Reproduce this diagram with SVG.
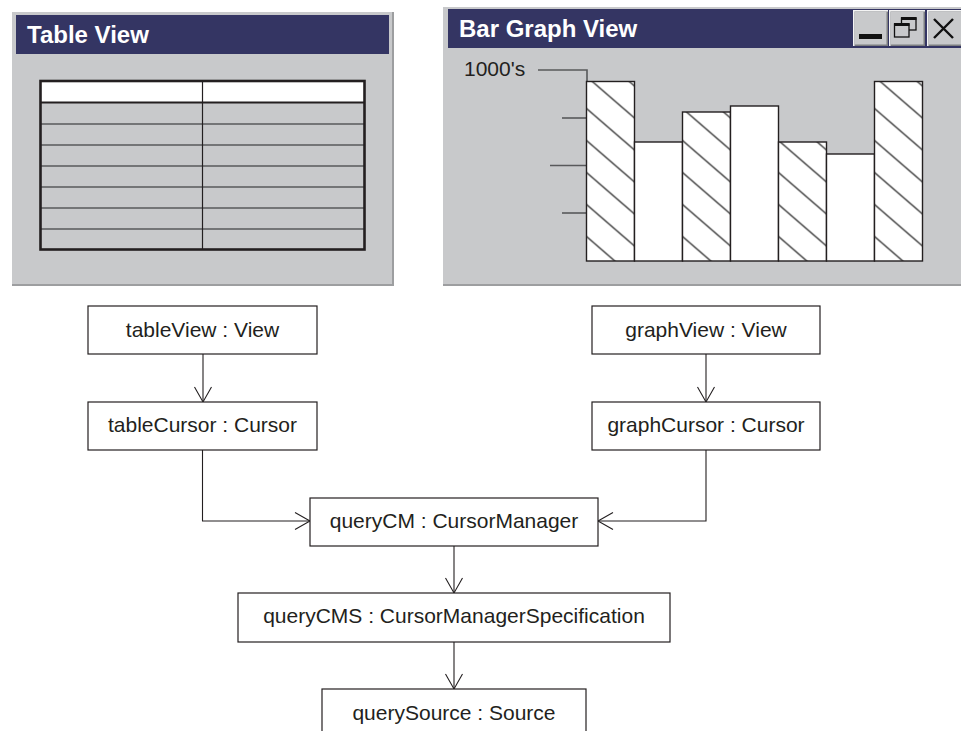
<svg xmlns="http://www.w3.org/2000/svg" width="961" height="731" viewBox="0 0 961 731">
<style>
.win{fill:#c8c9cb}
.shadow{fill:#9d9ea0}
.title{fill:#343563}
.ttext{font-family:"Liberation Sans",Arial,sans-serif;font-weight:bold;font-size:24px;fill:#ffffff}
.node rect{fill:#ffffff;stroke:#231f20;stroke-width:1.2}
.node text{font-family:"Liberation Sans",Arial,sans-serif;font-size:21px;fill:#231f20;text-anchor:middle}
.conn{fill:none;stroke:#231f20;stroke-width:1.1}
.bar{stroke:#231f20;stroke-width:1.4}
.tick{stroke:#58595b;stroke-width:1.6}
.rowline{stroke:#58595b;stroke-width:1.3}
.btn{fill:#c8c9cb}
</style>
<defs>
<marker id="open" markerUnits="userSpaceOnUse" markerWidth="20" markerHeight="20" viewBox="-16 -10 18 20" refX="0" refY="0" orient="auto">
<path d="M-15,-8.5 L0,0 L-15,8.5" fill="none" stroke="#231f20" stroke-width="1.1"/>
</marker>
<pattern id="hatch" patternUnits="userSpaceOnUse" x="0" y="12.5" width="37" height="32">
<rect width="37" height="32" fill="#ffffff"/>
<path d="M-2,-1.73 L39,33.73 M-3,29.4 L3,34.6 M34,-2.6 L40,2.6" stroke="#111111" stroke-width="1.15"/>
</pattern>
</defs>

<g id="tableWindow">
<rect class="shadow" x="12" y="12" width="382" height="274"/>
<rect class="win" x="12" y="12" width="380" height="272"/>
<rect class="title" x="16" y="15" width="373" height="39"/>
<text class="ttext" x="27" y="43">Table View</text>
<rect x="40" y="80" width="325" height="22.5" fill="#ffffff"/>
<g class="rowline">
<line x1="41" y1="124" x2="364" y2="124"/>
<line x1="41" y1="145" x2="364" y2="145"/>
<line x1="41" y1="166" x2="364" y2="166"/>
<line x1="41" y1="187" x2="364" y2="187"/>
<line x1="41" y1="208" x2="364" y2="208"/>
<line x1="41" y1="229" x2="364" y2="229"/>
</g>
<line x1="202.5" y1="81" x2="202.5" y2="249" stroke="#231f20" stroke-width="1.2"/>
<line x1="41" y1="102.5" x2="364" y2="102.5" stroke="#231f20" stroke-width="2.2"/>
<rect x="40.5" y="81" width="324" height="168.5" fill="none" stroke="#231f20" stroke-width="2.6"/>
</g>

<g id="barGraphWindow">
<rect class="shadow" x="443" y="7" width="518" height="279"/>
<rect class="win" x="443" y="7" width="518" height="277"/>
<rect class="title" x="448" y="9" width="513" height="39"/>
<text class="ttext" x="459" y="37">Bar Graph View</text>
<g id="btnMin">
<rect x="853" y="10" width="35" height="36" fill="#f4f4f4"/>
<rect x="854.5" y="11.5" width="33.5" height="34.5" fill="#7d7e80"/>
<rect x="854.5" y="11.5" width="32" height="33" class="btn"/>
<rect x="859" y="34" width="23" height="5" fill="#111111"/>
</g>
<g id="btnRestore">
<rect x="889" y="10" width="36" height="36" fill="#f4f4f4"/>
<rect x="890.5" y="11.5" width="34.5" height="34.5" fill="#7d7e80"/>
<rect x="890.5" y="11.5" width="33" height="33" class="btn"/>
<rect x="901.5" y="18" width="14.5" height="12" fill="none" stroke="#111111" stroke-width="1.3"/>
<rect x="901" y="17" width="15.5" height="3" fill="#111111"/>
<rect x="894.5" y="24" width="14.5" height="13" class="btn" stroke="#111111" stroke-width="1.3"/>
<rect x="894" y="23" width="15.5" height="3" fill="#111111"/>
</g>
<g id="btnClose">
<rect x="927" y="10" width="36" height="36" fill="#f4f4f4"/>
<rect x="928.5" y="11.5" width="34" height="34.5" fill="#7d7e80"/>
<rect x="928.5" y="11.5" width="33" height="33" class="btn"/>
<path d="M934,19 L953,38 M953,19 L934,38" stroke="#111111" stroke-width="2.4"/>
</g>
<text x="464" y="76" font-family="'Liberation Sans',Arial,sans-serif" font-size="21" fill="#231f20">1000's</text>
<g class="tick">
<path d="M538,70 H587 V82" fill="none"/>
<line x1="562" y1="118" x2="587" y2="118"/>
<line x1="550" y1="165.5" x2="587" y2="165.5"/>
<line x1="562" y1="213" x2="587" y2="213"/>
</g>
<g class="bar">
<rect transform="translate(586.5,0)" x="0" y="81.5" width="48" height="179.5" fill="url(#hatch)"/>
<rect x="634.5" y="142" width="48" height="119" fill="#ffffff"/>
<rect transform="translate(682.5,0)" x="0" y="112" width="48" height="149" fill="url(#hatch)"/>
<rect x="730.5" y="106" width="48" height="155" fill="#ffffff"/>
<rect transform="translate(778.5,0)" x="0" y="142" width="48" height="119" fill="url(#hatch)"/>
<rect x="826.5" y="154" width="48" height="107" fill="#ffffff"/>
<rect transform="translate(874.5,0)" x="0" y="81.5" width="48" height="179.5" fill="url(#hatch)"/>
</g>
</g>

<g id="connectors">
<line class="conn" x1="203" y1="354" x2="203" y2="402" marker-end="url(#open)"/>
<line class="conn" x1="706" y1="354" x2="706" y2="402" marker-end="url(#open)"/>
<path class="conn" d="M202.5,450 V521 H310" marker-end="url(#open)"/>
<path class="conn" d="M706,450 V521 H598" marker-end="url(#open)"/>
<line class="conn" x1="454" y1="546" x2="454" y2="593" marker-end="url(#open)"/>
<line class="conn" x1="454" y1="642" x2="454" y2="689" marker-end="url(#open)"/>
</g>

<g id="tableView" class="node">
<rect x="88" y="306" width="229" height="48"/>
<text x="202.5" y="337">tableView : View</text>
</g>
<g id="tableCursor" class="node">
<rect x="88" y="402" width="229" height="48"/>
<text x="202.5" y="432">tableCursor : Cursor</text>
</g>
<g id="graphView" class="node">
<rect x="592" y="306" width="228" height="48"/>
<text x="706" y="337">graphView : View</text>
</g>
<g id="graphCursor" class="node">
<rect x="592" y="402" width="228" height="48"/>
<text x="706" y="432">graphCursor : Cursor</text>
</g>
<g id="queryCM" class="node">
<rect x="310" y="498" width="288" height="48"/>
<text x="454" y="528">queryCM : CursorManager</text>
</g>
<g id="queryCMS" class="node">
<rect x="238" y="593" width="432" height="49"/>
<text x="454" y="623">queryCMS : CursorManagerSpecification</text>
</g>
<g id="querySource" class="node">
<rect x="322" y="689" width="264" height="60"/>
<text x="454" y="720">querySource : Source</text>
</g>
</svg>
